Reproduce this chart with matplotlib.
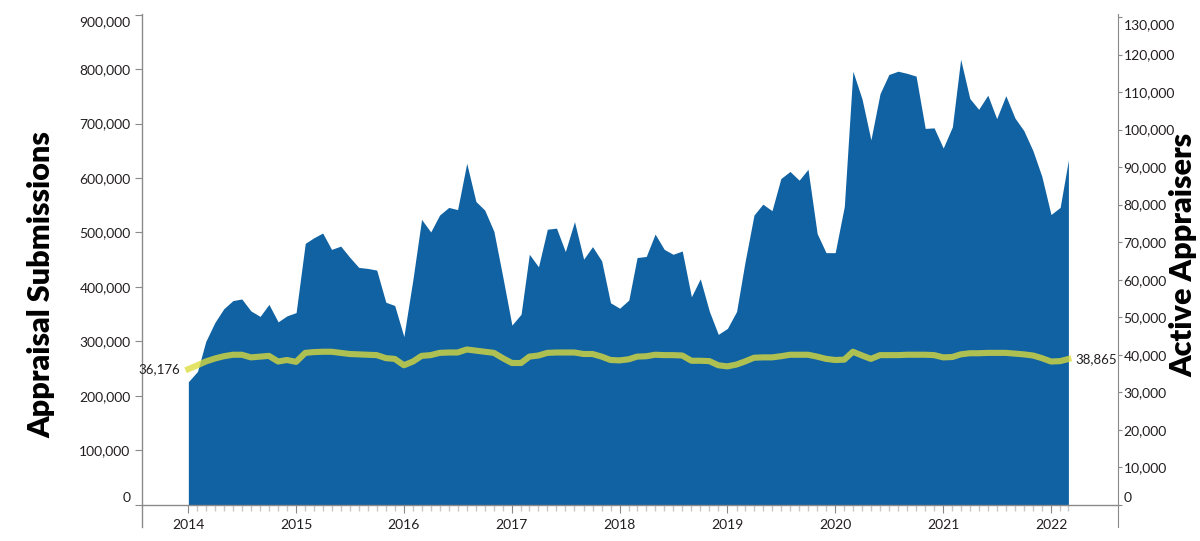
import numpy as np
import pandas as pd
import matplotlib
matplotlib.use('Agg')
import matplotlib.pyplot as plt
import matplotlib.dates as mdates
import matplotlib.transforms as mtransforms
from matplotlib.ticker import FixedLocator, FuncFormatter

plt.rcParams['font.family'] = ['Lato', 'DejaVu Sans']

# monthly data, Jan 2014 - Mar 2022
months = pd.date_range('2014-01-01', periods=99, freq='MS')

submissions = [
    226000, 245000, 300000, 335000, 360000, 375000, 378000, 356000, 346000, 368000, 336000, 347000,  # 2014
    353000, 480000, 490000, 499000, 469000, 475000, 455000, 436000, 434000, 431000, 372000, 366000,  # 2015
    309000, 415000, 524000, 501000, 532000, 546000, 542000, 627000, 557000, 541000, 502000, 419000,  # 2016
    330000, 350000, 460000, 437000, 506000, 508000, 465000, 520000, 451000, 474000, 448000, 371000,  # 2017
    361000, 376000, 454000, 456000, 497000, 469000, 460000, 466000, 382000, 415000, 355000, 313000,  # 2018
    324000, 355000, 444000, 532000, 552000, 540000, 599000, 612000, 596000, 616000, 498000, 463000,  # 2019
    463000, 548000, 796000, 745000, 670000, 755000, 790000, 796000, 792000, 787000, 691000, 692000,  # 2020
    655000, 694000, 818000, 746000, 726000, 752000, 709000, 751000, 710000, 687000, 650000, 603000,  # 2021
    533000, 546000, 633000,  # 2022
]

appraisers = [
    36176, 37200, 38200, 39000, 39600, 40000, 40000, 39300, 39500, 39700, 38200, 38600,
    38100, 40500, 40700, 40800, 40800, 40500, 40200, 40100, 40000, 39900, 39100, 38900,
    37200, 38200, 39700, 39900, 40500, 40600, 40600, 41400, 41100, 40800, 40500, 39100,
    37800, 37800, 39500, 39800, 40500, 40600, 40600, 40600, 40200, 40200, 39500, 38600,
    38500, 38800, 39500, 39600, 40000, 39900, 39900, 39800, 38400, 38400, 38300, 37200,
    36900, 37400, 38200, 39200, 39300, 39300, 39600, 40000, 40000, 40000, 39500, 38900,
    38600, 38700, 40800, 39800, 38900, 39900, 39900, 39900, 40000, 40000, 40000, 39900,
    39300, 39400, 40100, 40400, 40400, 40500, 40500, 40500, 40300, 40100, 39800, 39100,
    38200, 38300, 38865,
]

left_ticks = np.arange(0, 900001, 100000)
right_ticks = np.arange(0, 130001, 10000)

area_color = '#1062a2'
line_color = '#dcdc3c'
axis_gray = '#8a8a8a'
text_color = '#231f20'

fig = plt.figure(figsize=(12, 5.41), dpi=100)
ax = fig.add_axes([141.7 / 1200, 14 / 541, (1118 - 141.7) / 1200, (527 - 14) / 541])

ax.fill_between(months, submissions, 0, color=area_color, lw=0)

ax.set_xlim(pd.Timestamp('2013-07-27'), pd.Timestamp('2022-08-16'))
ax.set_ylim(-40500, 901000)

# spines
ax.spines['top'].set_visible(False)
ax.spines['right'].set_visible(False)
ax.spines['bottom'].set_position(('data', 0))
for s in ['left', 'bottom']:
    ax.spines[s].set_color(axis_gray)
    ax.spines[s].set_linewidth(1)

# x axis: years + monthly minor ticks
ax.xaxis.set_major_locator(mdates.YearLocator())
ax.xaxis.set_major_formatter(mdates.DateFormatter('%Y'))
ax.xaxis.set_minor_locator(FixedLocator(mdates.date2num(months)))
ax.tick_params(axis='x', which='major', length=6, color=axis_gray, labelsize=10,
               labelcolor=text_color, pad=4)
ax.tick_params(axis='x', which='minor', length=4, color='#c8c8c8', width=1)

# left y axis
ax.yaxis.set_major_locator(FixedLocator(left_ticks))
ax.yaxis.set_major_formatter(FuncFormatter(lambda v, p: f'{int(v):,}'))
ax.tick_params(axis='y', length=5, color=axis_gray, labelsize=10, labelcolor=text_color, pad=3)

# right axis with the appraiser line
ax2 = ax.twinx()
ax2.set_ylim(-5900, 130800)
ax2.plot(months, appraisers, color=line_color, lw=4.4, alpha=0.78,
         solid_capstyle='projecting', solid_joinstyle='round')
for s in ['top', 'left', 'bottom']:
    ax2.spines[s].set_visible(False)
ax2.spines['right'].set_color(axis_gray)
ax2.yaxis.set_major_locator(FixedLocator(right_ticks))
ax2.yaxis.set_major_formatter(FuncFormatter(lambda v, p: f'{int(v):,}'))
ax2.tick_params(axis='y', length=3, color=axis_gray, labelsize=10, labelcolor=text_color, pad=1)

# end labels of the line
ax2.annotate(f'{appraisers[0]:,}', (months[0], appraisers[0]), xytext=(-6, 0),
             textcoords='offset points', ha='right', va='center', fontsize=9.5, color=text_color)
ax2.annotate(f'{appraisers[-1]:,}', (months[-1], appraisers[-1]), xytext=(5, 0),
             textcoords='offset points', ha='left', va='center', fontsize=9.5, color=text_color)

# nudge the first/last y labels inward like the original
for a in (ax, ax2):
    ticks = a.yaxis.get_major_ticks()
    for t, dy in ((ticks[0], 8), (ticks[-1], -7)):
        for lab in (t.label1, t.label2):
            lab.set_transform(lab.get_transform() +
                              mtransforms.ScaledTranslation(0, dy / 100, fig.dpi_scale_trans))

# axis titles
fig.text(41 / 1200, 1 - 285 / 541, 'Appraisal Submissions', rotation=90, ha='center', va='center',
         fontsize=22, fontweight='heavy', color='black')
fig.text(1183 / 1200, 1 - 255 / 541, 'Active Appraisers', rotation=90, ha='center', va='center',
         fontsize=22, fontweight='heavy', color='black')

fig.savefig('out.png', dpi=100)
